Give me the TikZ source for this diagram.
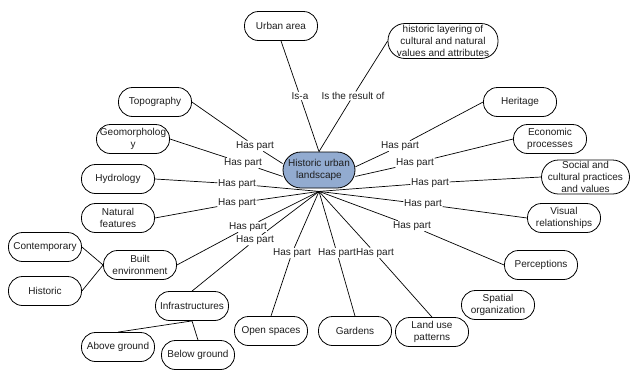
\documentclass[tikz,border=0pt]{standalone}
\usepackage{fontspec}
\setmainfont{Liberation Sans}
\usetikzlibrary{backgrounds,calc}
\definecolor{hulblue}{RGB}{146,171,208}
\definecolor{txt}{RGB}{30,30,30}
\begin{document}
\begin{tikzpicture}[x=1pt,y=-1pt,
  concept/.style={draw=black, line width=0.8pt, fill=white, rounded corners=14pt,
    minimum width=73pt, minimum height=29pt, inner sep=0pt, align=center,
    font=\fontsize{10}{12}\selectfont, text=txt},
  rel/.style={fill=white, inner sep=0.6pt, font=\fontsize{10}{12}\selectfont, text=txt},
  link/.style={draw=black, line width=0.7pt}]
\useasboundingbox (0,0) rectangle (630,370);

% concepts
\node[concept, fill=hulblue, minimum width=72pt, minimum height=36pt, rounded corners=18pt] (hul) at (319,170) {Historic urban\\landscape};
\node[concept] (ua) at (281,26) {Urban area};
\node[concept, minimum width=110pt, minimum height=35pt, rounded corners=17pt] (hl) at (443,41) {historic layering of\\cultural and natural\\values and attributes};
\node[concept] (topo) at (155,102) {Topography};
\node[concept] (geo) at (133,139) {Geomorpholog\\y};
\node[concept] (hyd) at (118,179) {Hydrology};
\node[concept] (nat) at (118,218) {Natural\\features};
\node[concept] (con) at (45,247) {Contemporary};
\node[concept] (his) at (45,291) {Historic};
\node[concept] (built) at (140,265) {Built\\environment};
\node[concept] (inf) at (192,306) {Infrastructures};
\node[concept] (abv) at (118,347) {Above ground};
\node[concept] (blw) at (198,355) {Below ground};
\node[concept] (open) at (271,331) {Open spaces};
\node[concept] (gard) at (355,331) {Gardens};
\node[concept] (land) at (432,332) {Land use\\patterns};
\node[concept] (spat) at (498,305) {Spatial\\organization};
\node[concept] (perc) at (541,265) {Perceptions};
\node[concept] (vis) at (564,218) {Visual\\relationships};
\node[concept, minimum width=88pt, minimum height=34pt, rounded corners=17pt] (soc) at (585.5,177) {Social and\\cultural practices\\and values};
\node[concept] (eco) at (550,139) {Economic\\processes};
\node[concept] (her) at (520,102) {Heritage};

% relation labels
\node[rel] (r1) at (300,96) {Is-a};
\node[rel] (r2) at (353,96) {Is the result of};
\node[rel] (r3) at (255,146) {Has part};
\node[rel] (r4) at (243,163) {Has part};
\node[rel] (r5) at (237,184) {Has part};
\node[rel] (r6) at (237,203) {Has part};
\node[rel] (r7) at (248,227) {Has part};
\node[rel] (r8) at (255,240) {Has part};
\node[rel] (r9) at (292,253) {Has part};
\node[rel] (r10) at (337,253) {Has part};
\node[rel] (r11) at (375,253) {Has part};
\node[rel] (r12) at (412,226) {Has part};
\node[rel] (r13) at (423,204) {Has part};
\node[rel] (r14) at (430,183) {Has part};
\node[rel] (r15) at (415,163) {Has part};
\node[rel] (r16) at (400,146) {Has part};

\coordinate (hb) at ($(hul.south)+(0,3)$);

\begin{scope}[on background layer]
\draw[link] (ua.south) -- (r1) -- (hul.north);
\draw[link] (hl.west) -- (r2) -- (hul.north);
\draw[link] (topo.east) -- (r3) -- (hul.170);
\draw[link] (geo.east) -- (r4) -- (hul.190);
\draw[link] (hyd.east) -- (r5) -- (hb);
\draw[link] (nat.east) -- (r6) -- (hb);
\draw[link] (built.east) -- (r7) -- (hb);
\draw[link] (inf.north) -- (r8) -- (hb);
\draw[link] (open.north) -- (r9) -- (hb);
\draw[link] (gard.north) -- (r10) -- (hb);
\draw[link] (land.north) -- (r11) -- (hb);
\draw[link] (perc.west) -- (r12) -- (hb);
\draw[link] (vis.west) -- (r13) -- (hb);
\draw[link] (soc.west) -- (r14) -- (hb);
\draw[link] (eco.west) -- (r15) -- (hul.350);
\draw[link] (her.west) -- (r16) -- (hul.5);
\draw[link] (con.east) -- (built.west);
\draw[link] (his.east) -- (built.west);
\draw[link] (inf.south) -- (abv.north);
\draw[link] (inf.south) -- (blw.north);
\end{scope}
\end{tikzpicture}
\end{document}
